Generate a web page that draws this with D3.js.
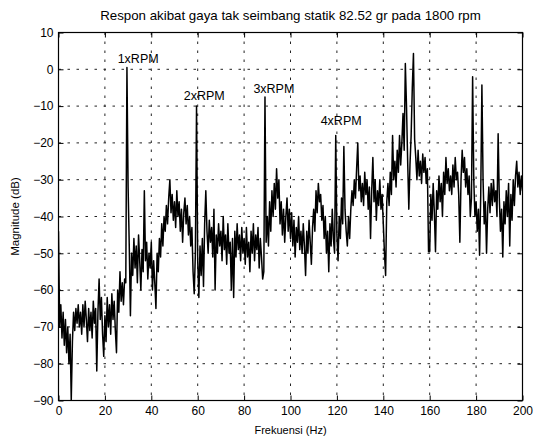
<!DOCTYPE html>
<html>
<head>
<meta charset="utf-8">
<script src="https://cdn.jsdelivr.net/npm/d3@7"></script>
<style>
  body { margin: 0; background: #fff; }
  svg { display: block; }
  text { font-family: Arial, "Liberation Sans", Helvetica, sans-serif; fill: #000; }
</style>
</head>
<body>
<svg id="chart" width="536" height="439"></svg>
<script>
// Spectrum labels
const titleText = "Respon akibat gaya tak seimbang statik 82.52 gr pada 1800 rpm";
const xLabel = "Frekuensi (Hz)";
const yLabel = "Magnitude (dB)";

// Frequency sampling of the spectrum (Hz)
const freqStart = 0;
const freqStep = 0.5;

// Magnitude in dB, one value per 0.5 Hz bin, 0 .. 200 Hz (10 Hz per row)
const magnitudeDb = [
  -44, -70, -64, -73, -66, -75, -68, -77, -70, -80, -72, -90, -74, -66, -71, -65, -69, -64, -70, -66,
  -72, -64, -70, -63, -68, -74, -65, -71, -66, -73, -63, -69, -65, -82, -66, -57, -68, -62, -72, -78,
  -67, -74, -62, -70, -64, -72, -61, -68, -63, -71, -77, -60, -66, -55, -63, -58, -64, -57, -58, 0.5,
  -32, -48, -67, -50, -56, -46, -54, -48, -58, -45, -52, -60, -49, -55, -33, -52, -47, -57, -50, -54,
  -47, -60, -52, -58, -65, -50, -55, -46, -51, -42, -48, -40, -44, -37, -42, -35, -30, -39, -34, -41,
  -36, -43, -33, -40, -36, -44, -38, -47, -39, -35, -42, -37, -45, -40, -48, -43, -55, -61, -50, -10,
  -52, -62, -48, -56, -46, -59, -42, -33, -44, -50, -41, -47, -43, -51, -38, -60, -45, -50, -42, -48,
  -44, -52, -40, -49, -45, -53, -42, -50, -47, -60, -46, -62, -44, -51, -42, -49, -45, -52, -43, -50,
  -46, -53, -43, -51, -47, -55, -44, -50, -42, -52, -45, -49, -43, -54, -46, -51, -57, -55, -7.5, -47,
  -40, -48, -36, -44, -33, -40, -31, -38, -27, -35, -30, -42, -36, -45, -38, -47, -40, -35, -44, -38,
  -46, -39, -48, -41, -51, -43, -47, -40, -49, -44, -50, -42, -48, -56, -44, -50, -41, -47, -53, -43,
  -38, -44, -33, -39, -31, -36, -34, -41, -37, -46, -40, -50, -44, -55, -42, -48, -38, -46, -50, -18,
  -45, -52, -40, -46, -35, -42, -21, -38, -44, -48, -40, -46, -38, -33, -37, -30, -35, -27, -20, -33,
  -29, -36, -31, -37, -28, -34, -30, -38, -32, -46, -33, -24, -36, -30, -41, -33, -37, -30, -38, -34,
  -42, -50, -56, -36, -31, -37, -28, -34, -18, -30, -25, -32, -22, -28, -18, -26, -20, -12, -22, 1.6,
  -10, -25, -38, -26, -18, -5, 4.3, -19, -24, -30, -22, -29, -25, -31, -23, -28, -24, -31, -27, -49.6,
  -49.6, -34, -41, -31, -39, -49.6, -33, -38, -29, -36, -31, -40, -28, -34, -24, -31, -27, -33, -29, -34,
  -26, -32, -24, -30, -28, -34, -47, -30, -22, -28, -24, -32, -27, -34, -29, -40, -35, -2, -30, -40,
  -36, -44, -38, -50.5, -34, -4.3, -30, -42, -36, -50, -38, -32, -39, -31, -37, -30, -36, -33, -40, -17.5,
  -35, -44, -38, -51, -36, -42, -33, -40, -31, -48, -34, -41, -30, -37, -29, -25, -32, -28, -34, -29,
  -33
];

// Axis ticks
const xTicks = [0, 20, 40, 60, 80, 100, 120, 140, 160, 180, 200];
const yTicks = [10, 0, -10, -20, -30, -40, -50, -60, -70, -80, -90];

// Harmonic annotations (text anchored at data coordinates)
const harmonicLabels = ["1xRPM", "2xRPM", "3xRPM", "4xRPM"];
const harmonicLabelFreq = [25.5, 54, 84, 113];
const harmonicLabelDb = [2.5, -7.4, -5.6, -14.2];

const width = 536, height = 439;
const margin = { top: 32.5, right: 13.5, bottom: 38.5, left: 58.5 };
const plotW = width - margin.left - margin.right;
const plotH = height - margin.top - margin.bottom;

const svg = d3.select("#chart");
const g = svg.append("g").attr("transform", `translate(${margin.left},${margin.top})`);

const x = d3.scaleLinear().domain([0, 200]).range([0, plotW]);
const y = d3.scaleLinear().domain([-90, 10]).range([plotH, 0]);

// Dotted grid
const grid = g.append("g").attr("stroke", "#222").attr("stroke-width", 1)
  .attr("stroke-dasharray", "2.5,6.5").attr("fill", "none");
grid.selectAll("line.v").data(xTicks).join("line").attr("class", "v")
  .attr("x1", d => x(d)).attr("x2", d => x(d)).attr("y1", 0).attr("y2", plotH);
grid.selectAll("line.h").data(yTicks).join("line").attr("class", "h")
  .attr("y1", d => y(d)).attr("y2", d => y(d)).attr("x1", 0).attr("x2", plotW);

// Spectrum trace
const points = magnitudeDb.map((v, i) => ({ f: freqStart + i * freqStep, db: v }));
g.append("defs").append("clipPath").attr("id", "plotClip")
  .append("rect").attr("width", plotW).attr("height", plotH);
g.append("path")
  .datum(points)
  .attr("clip-path", "url(#plotClip)")
  .attr("fill", "none")
  .attr("stroke", "#000")
  .attr("stroke-width", 1.5)
  .attr("stroke-linejoin", "round")
  .attr("d", d3.line().x(d => x(d.f)).y(d => y(d.db)));

// Axes with inward ticks on all four sides
const fontSize = "12px";
g.append("g").attr("transform", `translate(0,${plotH})`)
  .call(d3.axisBottom(x).tickValues(xTicks).tickSizeInner(-5).tickSizeOuter(0).tickPadding(6));
g.append("g")
  .call(d3.axisLeft(y).tickValues(yTicks).tickSizeInner(-5).tickSizeOuter(0).tickPadding(5));
g.append("g").call(d3.axisTop(x).tickValues(xTicks).tickSizeInner(-5).tickSizeOuter(0).tickFormat(""));
g.append("g").attr("transform", `translate(${plotW},0)`)
  .call(d3.axisRight(y).tickValues(yTicks).tickSizeInner(-5).tickSizeOuter(0).tickFormat(""));
g.selectAll(".domain").remove();
g.selectAll(".tick line").attr("stroke", "#000");
g.selectAll(".tick text").attr("font-size", fontSize).attr("font-family", "Arial, 'Liberation Sans', sans-serif").attr("fill", "#000");

// Box
g.append("rect").attr("width", plotW).attr("height", plotH)
  .attr("fill", "none").attr("stroke", "#000").attr("stroke-width", 1.2);

// Harmonic annotations
g.selectAll("text.harm").data(harmonicLabels).join("text").attr("class", "harm")
  .attr("x", (d, i) => x(harmonicLabelFreq[i]))
  .attr("y", (d, i) => y(harmonicLabelDb[i]))
  .attr("dominant-baseline", "middle")
  .attr("font-size", "12.5px")
  .text(d => d);

// Title and axis labels
svg.append("text").attr("x", margin.left + plotW / 2).attr("y", 20)
  .attr("text-anchor", "middle").attr("font-size", "13.3px").text(titleText);
svg.append("text").attr("x", margin.left + plotW / 2).attr("y", 434)
  .attr("text-anchor", "middle").attr("font-size", "11px").text(xLabel);
svg.append("text")
  .attr("transform", `translate(19,${margin.top + plotH / 2}) rotate(-90)`)
  .attr("text-anchor", "middle").attr("font-size", "11.5px").text(yLabel);
</script>
</body>
</html>
